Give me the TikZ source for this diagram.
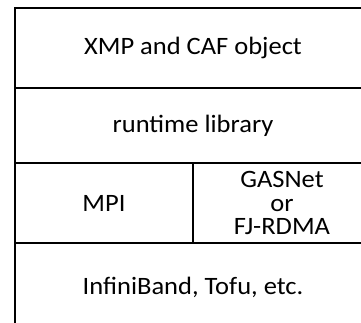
\documentclass[tikz,border=0pt]{standalone}
\usepackage{fontspec}
\setmainfont{Carlito}[FakeStretch=1.06]
\usepackage{tikz}

\begin{document}
\begin{tikzpicture}[x=1pt, y=1pt,
        layer/.style={rectangle, draw, line width=2.5pt, inner sep=0pt, align=center, font=\fontsize{25}{23.5}\selectfont},
        wide/.style={minimum width=356pt},
        half/.style={minimum width=178pt}
    ]
        \useasboundingbox (0, 0) rectangle (361, 322);
        \clip (0, 0) rectangle (361, 322);

        % Nodes
        \node [layer, wide, minimum height=80pt] (object) at (193, 274) {XMP and CAF object};

        \node [layer, wide, minimum height=75pt] (runtime) at (193, 196.5) {runtime library};

        \node [layer, half, minimum height=80pt] (mpi) at (104, 119) {MPI};

        \node [layer, half, minimum height=80pt] (gasnet) at (282, 119) {GASNet\\or\\FJ-RDMA};

        \node [layer, wide, minimum height=88pt] (network) at (193, 35) {InfiniBand, Tofu, etc.};

    \end{tikzpicture}
\end{document}
